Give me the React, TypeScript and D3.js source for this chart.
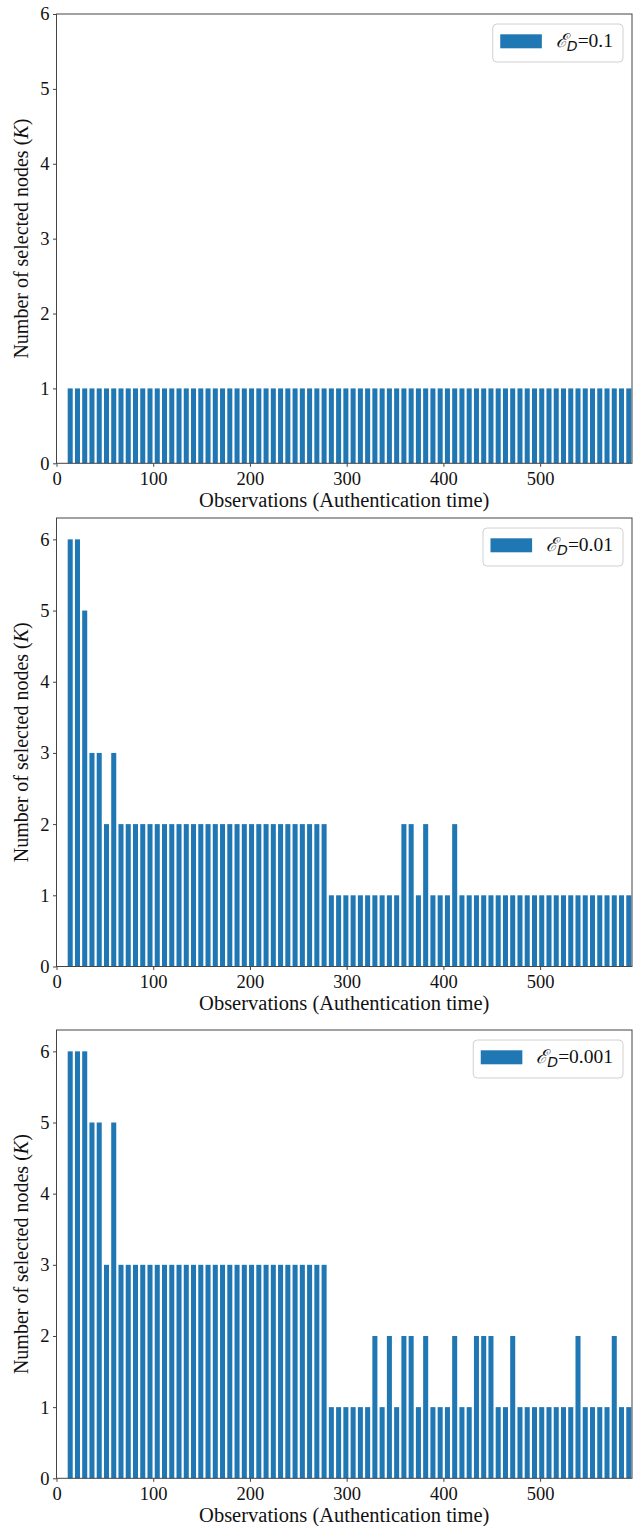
import React, { useEffect, useRef } from "react";
import * as d3 from "d3";

// observation times (authentication time), one bar each
const obsTimes = [
  15, 22.5, 30, 37.5, 45, 52.5, 60, 67.5, 75, 82.5,
  90, 97.5, 105, 112.5, 120, 127.5, 135, 142.5, 150, 157.5,
  165, 172.5, 180, 187.5, 195, 202.5, 210, 217.5, 225, 232.5,
  240, 247.5, 255, 262.5, 270, 277.5, 285, 292.5, 300, 307.5,
  315, 322.5, 330, 337.5, 345, 352.5, 360, 367.5, 375, 382.5,
  390, 397.5, 405, 412.5, 420, 427.5, 435, 442.5, 450, 457.5,
  465, 472.5, 480, 487.5, 495, 502.5, 510, 517.5, 525, 532.5,
  540, 547.5, 555, 562.5, 570, 577.5, 585, 592.5,
];

// number of selected nodes K for each eps_D
const kEps01 = [
  1, 1, 1, 1, 1, 1, 1, 1, 1, 1,
  1, 1, 1, 1, 1, 1, 1, 1, 1, 1,
  1, 1, 1, 1, 1, 1, 1, 1, 1, 1,
  1, 1, 1, 1, 1, 1, 1, 1, 1, 1,
  1, 1, 1, 1, 1, 1, 1, 1, 1, 1,
  1, 1, 1, 1, 1, 1, 1, 1, 1, 1,
  1, 1, 1, 1, 1, 1, 1, 1, 1, 1,
  1, 1, 1, 1, 1, 1, 1, 1,
];
const kEps001 = [
  6, 6, 5, 3, 3, 2, 3, 2, 2, 2,
  2, 2, 2, 2, 2, 2, 2, 2, 2, 2,
  2, 2, 2, 2, 2, 2, 2, 2, 2, 2,
  2, 2, 2, 2, 2, 2, 1, 1, 1, 1,
  1, 1, 1, 1, 1, 1, 2, 2, 1, 2,
  1, 1, 1, 2, 1, 1, 1, 1, 1, 1,
  1, 1, 1, 1, 1, 1, 1, 1, 1, 1,
  1, 1, 1, 1, 1, 1, 1, 1,
];
const kEps0001 = [
  6, 6, 6, 5, 5, 3, 5, 3, 3, 3,
  3, 3, 3, 3, 3, 3, 3, 3, 3, 3,
  3, 3, 3, 3, 3, 3, 3, 3, 3, 3,
  3, 3, 3, 3, 3, 3, 1, 1, 1, 1,
  1, 1, 2, 1, 2, 1, 2, 2, 1, 2,
  1, 1, 1, 2, 1, 1, 2, 2, 2, 1,
  1, 2, 1, 1, 1, 1, 1, 1, 1, 1,
  2, 1, 1, 1, 1, 2, 1, 1,
];

const epsLabels = ["0.1", "0.01", "0.001"];
const xTicks = [0, 100, 200, 300, 400, 500];
const yTicks = [0, 1, 2, 3, 4, 5, 6];

const FONT = "'Times New Roman', 'Liberation Serif', serif";
const BLUE = "#1f77b4";

const panels = [
  { values: kEps01, eps: epsLabels[0], top: 14, bottom: 463.3, yMax: 6 },
  { values: kEps001, eps: epsLabels[1], top: 518, bottom: 966.5, yMax: 6.3 },
  { values: kEps0001, eps: epsLabels[2], top: 1030, bottom: 1478.3, yMax: 6.3 },
];

export default function App() {
  const ref = useRef<SVGSVGElement>(null);

  useEffect(() => {
    const svg = d3.select(ref.current);
    svg.selectAll("*").remove();

    const left = 56.5, right = 632;
    const x = d3.scaleLinear().domain([0, 595]).range([left, right]);
    const barW = x(5.2) - x(0);

    panels.forEach((p) => {
      const y = d3.scaleLinear().domain([0, p.yMax]).range([p.bottom, p.top]);
      const g = svg.append("g");

      g.selectAll(".bar")
        .data(obsTimes)
        .join("rect")
        .attr("class", "bar")
        .attr("x", d => x(d) - barW / 2 - 0.8)
        .attr("width", barW)
        .attr("y", (d, i) => y(p.values[i]))
        .attr("height", (d, i) => y(0) - y(p.values[i]))
        .attr("fill", BLUE);

      g.append("rect")
        .attr("x", left).attr("y", p.top)
        .attr("width", right - left).attr("height", p.bottom - p.top)
        .attr("fill", "none").attr("stroke", "#444").attr("stroke-width", 1);

      const xa = g.append("g")
        .attr("transform", `translate(0,${p.bottom})`)
        .call(d3.axisBottom(x).tickValues(xTicks).tickSize(3.5).tickPadding(5).tickFormat(d3.format("d")));
      xa.select(".domain").remove();
      xa.selectAll("line").attr("stroke", "#444");
      xa.selectAll("text").attr("font-family", FONT).attr("font-size", 18.5).attr("fill", "#111");

      const ya = g.append("g")
        .attr("transform", `translate(${left},0)`)
        .call(d3.axisLeft(y).tickValues(yTicks).tickSize(3.5).tickPadding(3.5).tickFormat(d3.format("d")));
      ya.select(".domain").remove();
      ya.selectAll("line").attr("stroke", "#444");
      ya.selectAll("text").attr("font-family", FONT).attr("font-size", 18.5).attr("fill", "#111");

      g.append("text")
        .attr("x", (left + right) / 2)
        .attr("y", p.bottom + 43.5)
        .attr("text-anchor", "middle")
        .attr("font-family", FONT).attr("font-size", 20.5).attr("fill", "#111")
        .text("Observations (Authentication time)");

      const yl = g.append("text")
        .attr("transform", `translate(28,${(p.top + p.bottom) / 2}) rotate(-90)`)
        .attr("text-anchor", "middle")
        .attr("font-family", FONT).attr("font-size", 20).attr("fill", "#111");
      yl.append("tspan").text("Number of selected nodes (");
      yl.append("tspan").attr("font-style", "italic").text("K");
      yl.append("tspan").text(")");

      // legend
      const lg = g.append("g");
      const boxTop = p.top + 10;
      const boxRight = right - 9;
      const box = lg.append("rect");
      const patch = lg.append("rect");
      const lt = lg.append("text")
        .attr("y", boxTop + 22.7)
        .attr("font-family", FONT).attr("font-size", 19.5).attr("fill", "#111");
      lt.append("tspan").attr("font-family", "'DejaVu Serif', serif").attr("font-style", "italic").attr("font-size", 19).text("\u2130");
      lt.append("tspan").attr("font-family", "'DejaVu Sans', sans-serif").attr("font-style", "italic")
        .attr("font-size", 14).attr("dy", 4).text("D");
      lt.append("tspan").attr("dy", -4).text("=" + p.eps);
      const tw = (lt.node() as SVGTextElement).getComputedTextLength();
      const textLeft = boxRight - 10 - tw;
      lt.attr("x", textLeft);
      const patchRight = textLeft - 14;
      const patchLeft = patchRight - 41.6;
      patch.attr("x", patchLeft).attr("y", boxTop + 10.3)
        .attr("width", 41.6).attr("height", 14).attr("fill", BLUE);
      box.attr("x", patchLeft - 7.5).attr("y", boxTop)
        .attr("width", boxRight - patchLeft + 7.5).attr("height", 38)
        .attr("rx", 4).attr("fill", "white").attr("fill-opacity", 0.8)
        .attr("stroke", "#d0d0d0").attr("stroke-width", 1);
    });
  }, []);

  return (
    <svg ref={ref} width={633} height={1526}
      style={{ position: "absolute", left: 0, top: 0, background: "white" }} />
  );
}
